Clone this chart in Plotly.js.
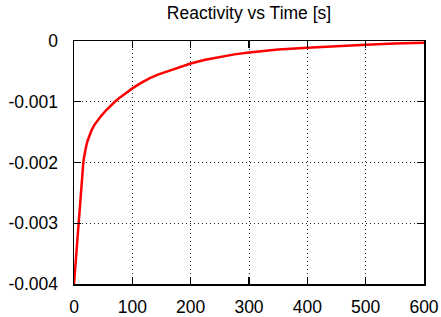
<!DOCTYPE html>
<html>
<head>
<meta charset="utf-8">
<script src="https://cdn.plot.ly/plotly-3.0.1.min.js"></script>
<style>html,body{margin:0;padding:0;background:#fff;}#chart{width:441px;height:317px;}</style>
</head>
<body>
<div id="chart"></div>
<script>
const timeS = [0, 2, 4, 6, 8, 10, 12, 13, 14, 15, 16, 17, 18, 20, 23, 26, 30, 35, 40, 46, 55, 63, 70, 80, 92, 100, 115, 130, 145, 160, 180, 200, 225, 250, 275, 300, 350, 400, 450, 500, 550, 600];
const reactivity = [-0.0040, -0.00373, -0.00346, -0.00320, -0.00294, -0.00267, -0.00241, -0.00228, -0.00217, -0.00208, -0.00200, -0.00193, -0.00187, -0.00177, -0.00165, -0.00156, -0.00147, -0.00138, -0.00131, -0.00124, -0.00114, -0.00106, -0.00100, -0.00092, -0.00083, -0.00078, -0.00069, -0.00061, -0.00055, -0.00050, -0.00043, -0.00037, -0.00031, -0.00026, -0.00022, -0.00019, -0.00014, -0.00011, -0.00008, -0.00006, -0.00004, -0.00003];
const xTicks = [0, 100, 200, 300, 400, 500, 600];
const yTicks = [0, -0.001, -0.002, -0.003, -0.004];
const yTickText = ['0', '-0.001', '-0.002', '-0.003', '-0.004'];

const fontFam = 'Liberation Sans, Arial, sans-serif';
const axisCommon = {
  showline: true, linecolor: '#000', linewidth: 1.5, mirror: 'ticks',
  ticks: 'inside', ticklen: 7, tickcolor: '#000', tickwidth: 1.2,
  showgrid: true, gridcolor: 'rgba(0,0,0,0.85)', griddash: '1px,3px', gridwidth: 1,
  zeroline: false, tickfont: {family: fontFam, size: 17.5, color: '#000'}
};
const data = [{
  x: timeS, y: reactivity, type: 'scatter', mode: 'lines',
  line: {color: '#ff0000', width: 2.5, shape: 'linear'}
}];
const layout = {
  width: 441, height: 317,
  margin: {l: 74, r: 17, t: 41, b: 33},
  paper_bgcolor: '#fff', plot_bgcolor: '#fff',
  showlegend: false,
  title: {text: 'Reactivity vs Time [s]', font: {family: fontFam, size: 17.5, color: '#000'},
          x: 0.5, xref: 'paper', xanchor: 'center', y: 1 - 13/317, yref: 'container', yanchor: 'middle'},
  xaxis: Object.assign({}, axisCommon, {range: [0, 600], tickvals: xTicks, ticktext: xTicks.map(String), ticklabelstandoff: 6}),
  yaxis: Object.assign({}, axisCommon, {range: [-0.004, 0], tickvals: yTicks, ticktext: yTickText, ticklabelstandoff: 11})
};
Plotly.newPlot('chart', data, layout, {displayModeBar: false, staticPlot: true});
</script>
</body>
</html>
